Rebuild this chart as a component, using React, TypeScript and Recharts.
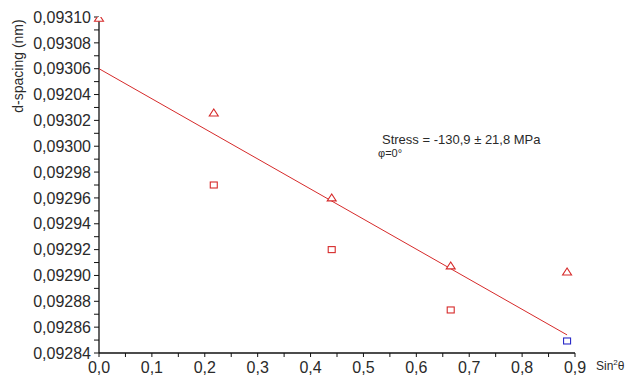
import React from 'react'
import { ComposedChart, Scatter, XAxis, YAxis } from 'recharts'

// sin²ψ positions and measured d-spacings (nm)
const triangleSin2 = [0.0, 0.217, 0.44, 0.665, 0.885]
const triangleD = [0.093099, 0.0930257, 0.09296, 0.0929074, 0.0929027]

const squareSin2 = [0.217, 0.44, 0.665]
const squareD = [0.09297, 0.09292, 0.0928733]

const blueSin2 = [0.885]
const blueD = [0.0928493]

// linear fit end points
const fitSin2 = [0.0, 0.885]
const fitD = [0.09306, 0.092854]

const xTicks = [0, 0.05, 0.1, 0.15, 0.2, 0.25, 0.3, 0.35, 0.4, 0.45, 0.5, 0.55, 0.6, 0.65, 0.7, 0.75, 0.8, 0.85, 0.9]
const xTickLabels = ['0,0', '0,1', '0,2', '0,3', '0,4', '0,5', '0,6', '0,7', '0,8', '0,9']

const yTicks = [
  0.09284, 0.09285, 0.09286, 0.09287, 0.09288, 0.09289, 0.0929, 0.09291, 0.09292,
  0.09293, 0.09294, 0.09295, 0.09296, 0.09297, 0.09298, 0.09299, 0.093, 0.09301,
  0.09302, 0.09303, 0.09304, 0.09305, 0.09306, 0.09307, 0.09308, 0.09309, 0.0931,
]
const yTickLabels = [
  '0,09284', '0,09286', '0,09288', '0,09290', '0,09292', '0,09294', '0,09296',
  '0,09298', '0,09300', '0,09302', '0,09204', '0,09306', '0,09308', '0,09310',
]

const RED = '#d62a2a'
const BLUE = '#2a2ac8'
const TEXT = '#2a2a2a'
const FONT = '"Liberation Sans", Arial, sans-serif'

const toPoints = (xs: number[], ys: number[]) => xs.map((x, i) => ({ x, y: ys[i] }))

const Triangle = (props: any) => {
  const { cx, cy } = props
  if (cx == null || cy == null) return null
  return (
    <path
      d={`M${cx - 4.5},${cy + 3} L${cx + 4.5},${cy + 3} L${cx},${cy - 4} Z`}
      fill="#fff"
      stroke={RED}
      strokeWidth={1.1}
    />
  )
}

const Square = (color: string) => (props: any) => {
  const { cx, cy } = props
  if (cx == null || cy == null) return null
  return <rect x={cx - 3.5} y={cy - 3} width={7} height={6} fill="#fff" stroke={color} strokeWidth={1.1} />
}

export default function App() {
  return (
    <div style={{ position: 'absolute', left: 0, top: 0, width: 631, height: 384, background: '#fff', fontFamily: FONT }}>
      <ComposedChart width={631} height={384} margin={{ top: 17, right: 56, bottom: 0, left: 0 }}>
        <XAxis
          type="number"
          dataKey="x"
          domain={[0, 0.9]}
          ticks={xTicks}
          interval={0}
          height={31}
          tickSize={4}
          tickMargin={5}
          tickFormatter={(_v: number, i: number) => (i % 2 === 0 ? xTickLabels[i / 2] : '')}
          tick={{ fontSize: 16, fill: TEXT, fontFamily: FONT }}
          axisLine={{ stroke: '#111', strokeWidth: 1.3 }}
          tickLine={{ stroke: '#111' }}
        />
        <YAxis
          type="number"
          dataKey="y"
          domain={[0.09284, 0.0931]}
          ticks={yTicks}
          interval={0}
          width={99}
          tickSize={5}
          tickMargin={3}
          allowDataOverflow
          tickFormatter={(_v: number, i: number) => (i % 2 === 0 ? yTickLabels[i / 2] : '')}
          tick={{ fontSize: 16, fill: TEXT, fontFamily: FONT }}
          axisLine={{ stroke: '#111', strokeWidth: 1.3 }}
          tickLine={{ stroke: '#111' }}
        />
        <Scatter
          data={toPoints(fitSin2, fitD)}
          line={{ stroke: RED, strokeWidth: 1 }}
          shape={() => null}
          isAnimationActive={false}
        />
        <Scatter data={toPoints(triangleSin2, triangleD)} shape={Triangle} isAnimationActive={false} />
        <Scatter data={toPoints(squareSin2, squareD)} shape={Square(RED)} isAnimationActive={false} />
        <Scatter data={toPoints(blueSin2, blueD)} shape={Square(BLUE)} isAnimationActive={false} />
      </ComposedChart>
      <div
        style={{
          position: 'absolute',
          left: 18,
          top: 66,
          transform: 'translate(-50%, -50%) rotate(-90deg)',
          fontSize: 14,
          color: TEXT,
          whiteSpace: 'nowrap',
        }}
      >
        d-spacing (nm)
      </div>
      <div style={{ position: 'absolute', left: 382, top: 132, fontSize: 13, color: TEXT, whiteSpace: 'nowrap' }}>
        Stress = -130,9 ± 21,8 MPa
      </div>
      <div style={{ position: 'absolute', left: 378, top: 147, fontSize: 11, color: TEXT, whiteSpace: 'nowrap' }}>
        φ=0°
      </div>
      <div style={{ position: 'absolute', left: 596, top: 358, fontSize: 12, color: TEXT, whiteSpace: 'nowrap' }}>
        Sin<sup style={{ fontSize: 8 }}>2</sup>θ
      </div>
    </div>
  )
}
